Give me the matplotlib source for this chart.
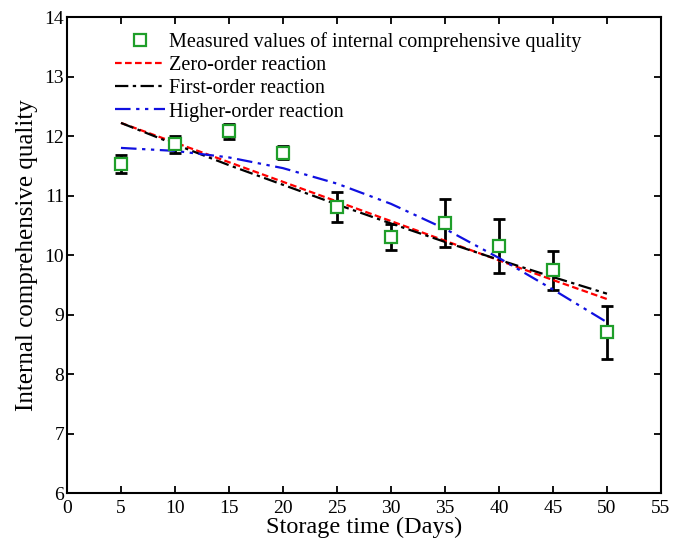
import matplotlib
matplotlib.use('Agg')
import matplotlib.pyplot as plt

plt.rcParams['font.family'] = ['Liberation Serif', 'DejaVu Serif']

days = [5, 10, 15, 20, 25, 30, 35, 40, 45, 50]
measured = [11.53, 11.86, 12.08, 11.72, 10.81, 10.30, 10.54, 10.15, 9.74, 8.70]
errors = [0.15, 0.14, 0.13, 0.11, 0.25, 0.22, 0.40, 0.45, 0.33, 0.45]

zero_order = [12.22, 11.89, 11.56, 11.23, 10.90, 10.57, 10.24, 9.91, 9.58, 9.26]
first_order = [12.22, 11.86, 11.51, 11.18, 10.85, 10.53, 10.22, 9.92, 9.63, 9.35]
higher_order = [11.80, 11.75, 11.64, 11.46, 11.20, 10.86, 10.44, 9.95, 9.42, 8.87]

x_ticks = list(range(0, 56, 5))
y_ticks = list(range(6, 15))

fig = plt.figure(figsize=(6.8, 5.49), dpi=100)
ax = fig.add_axes([0.0985, 0.102, 0.8735, 0.867])

ax.errorbar(days, measured, yerr=errors, fmt='none', ecolor='black',
            elinewidth=2, capsize=4, capthick=2, zorder=2)
meas, = ax.plot(days, measured, 's', color='#1f9e2a', mfc='white', mew=1.6,
                ms=8, zorder=4, linestyle='none')
zero, = ax.plot(days, zero_order, color='red', lw=1.6, dashes=(3, 1.5), zorder=3)
first, = ax.plot(days, first_order, color='black', lw=1.6,
                 dashes=(6, 2, 1.5, 2), zorder=3)
higher, = ax.plot(days, higher_order, color='#1010e0', lw=1.6,
                  dashes=(7, 2.5, 1.5, 2.5, 1.5, 2.5), zorder=3)

ax.set_xlim(0, 55)
ax.set_ylim(6, 14)
ax.set_xticks(x_ticks)
ax.set_yticks(y_ticks)
ax.tick_params(direction='in', top=True, right=True, length=5, width=1.3,
               labelsize=14)
ax.tick_params(axis='x', pad=5)
ax.tick_params(axis='y', pad=2)
for sp in ax.spines.values():
    sp.set_linewidth(1.5)

ax.set_xlabel('Storage time (Days)', fontsize=17.5, labelpad=0)
ax.set_ylabel('Internal comprehensive quality', fontsize=18, labelpad=5)

leg = ax.legend([meas, zero, first, higher],
                ['Measured values of internal comprehensive quality',
                 'Zero-order reaction', 'First-order reaction',
                 'Higher-order reaction'],
                loc='upper left', bbox_to_anchor=(0.081, 0.968), frameon=False,
                fontsize=14.5, handlelength=2.5, handletextpad=0.2,
                labelspacing=0.2, borderpad=0, borderaxespad=0)

fig.savefig('out.png', dpi=100)
